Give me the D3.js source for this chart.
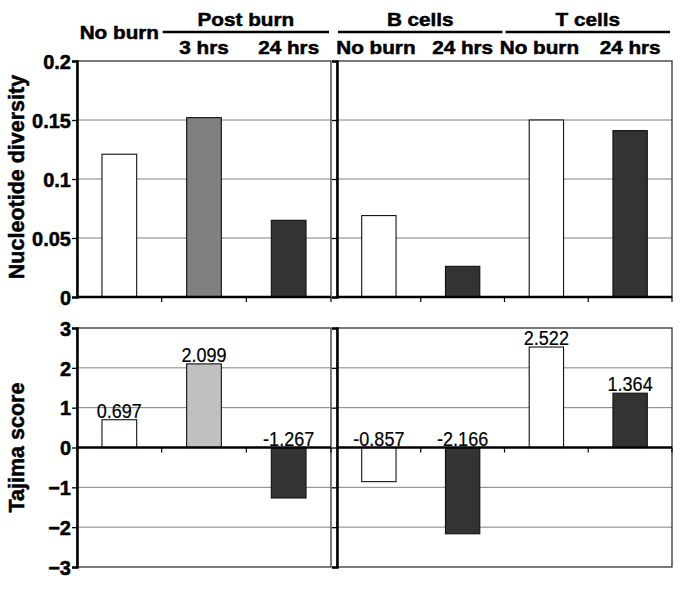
<!DOCTYPE html>
<html><head><meta charset="utf-8">
<script src="https://cdn.jsdelivr.net/npm/d3@7/dist/d3.min.js"></script>
<style>body{margin:0;background:#fff}svg{display:block}text{font-family:"Liberation Sans",Arial,sans-serif}</style>
</head><body><svg id="c" width="685" height="589"></svg>
<script>
// ---- data ----
const leftCategories = ["No burn", "3 hrs", "24 hrs"];
const rightCategories = ["B No burn", "B 24 hrs", "T No burn", "T 24 hrs"];
const leftDiversity = [0.121, 0.152, 0.065];
const rightDiversity = [0.069, 0.026, 0.150, 0.141];
const leftTajima = [0.697, 2.099, -1.267];
const rightTajima = [-0.857, -2.166, 2.522, 1.364];
const leftDiversityFill = ["#ffffff", "#808080", "#333333"];
const leftTajimaFill = ["#ffffff", "#c0c0c0", "#333333"];
const rightFill = ["#ffffff", "#333333", "#ffffff", "#333333"];
const subLabelsLeft = ["", "3 hrs", "24 hrs"];
const subLabelsRight = ["No burn", "24 hrs", "No burn", "24 hrs"];
const groupNames = ["Post burn", "B cells", "T cells"];
const groupMembers = [["3 hrs", "24 hrs"], ["B No burn", "B 24 hrs"], ["T No burn", "T 24 hrs"]];
const diversityTicks = [0, 0.05, 0.1, 0.15, 0.2];
const diversityTickLabels = ["0", "0.05", "0.1", "0.15", "0.2"];
const tajimaTicks = [-3, -2, -1, 0, 1, 2, 3];

// ---- layout ----
const svg = d3.select("#c");
const xL = d3.scaleBand().domain(leftCategories).range([77, 331]).paddingInner(0.59).paddingOuter(0.295);
const xR = d3.scaleBand().domain(rightCategories).range([337, 672]).paddingInner(0.59).paddingOuter(0.295);
const yTop = d3.scaleLinear().domain([0, 0.2]).range([297, 61]);
const yBot = d3.scaleLinear().domain([-3, 3]).range([567, 328]);
const grid = "#808080";

function center(x, c) { return x(c) + x.bandwidth() / 2; }
function bounds(x) { const r = x.range(); const st = x.step(); return d3.range(x.domain().length + 1).map(i => r[0] + i * st); }

function panel(x, y, ticks, tickFmt, cats, vals, fills, zero, showLabels) {
  const r = x.range();
  const g = svg.append("g");
  g.selectAll(".gr").data(ticks.filter(t => t !== y.domain()[0] && t !== y.domain()[1] && t !== zero))
    .join("line").attr("x1", r[0]).attr("x2", r[1]).attr("y1", d => y(d)).attr("y2", d => y(d))
    .attr("stroke", grid).attr("stroke-width", 1);
  g.append("rect").attr("x", r[0]).attr("y", y.range()[1]).attr("width", r[1] - r[0]).attr("height", y.range()[0] - y.range()[1])
    .attr("fill", "none").attr("stroke", "#333").attr("stroke-width", 1.3);
  g.selectAll(".bar").data(cats).join("rect")
    .attr("x", d => x(d)).attr("width", x.bandwidth())
    .attr("y", (d, i) => y(Math.max(vals[i], zero))).attr("height", (d, i) => Math.abs(y(vals[i]) - y(zero)))
    .attr("fill", (d, i) => fills[i]).attr("stroke", "#111").attr("stroke-width", 1.1);
  g.append("line").attr("x1", r[0]).attr("x2", r[1]).attr("y1", y(zero)).attr("y2", y(zero)).attr("stroke", "#000").attr("stroke-width", 2.3);
  g.selectAll(".ct").data(bounds(x).slice(1)).join("line")
    .attr("x1", d => d).attr("x2", d => d).attr("y1", y(zero)).attr("y2", y(zero) + 5)
    .attr("stroke", "#000").attr("stroke-width", 1.2);
  const ax = g.append("g").attr("transform", `translate(${r[0]},0)`)
    .call(d3.axisLeft(y).tickValues(ticks).tickSize(5).tickFormat(tickFmt));
  ax.select(".domain").attr("stroke", "#000").attr("stroke-width", 2.5);
  ax.selectAll(".tick line").attr("stroke", "#000").attr("stroke-width", 1.3);
  ax.selectAll("text").attr("font-size", 20).attr("font-weight", "bold").attr("fill", "#000")
    .attr("stroke", "#000").attr("stroke-width", 0.5).attr("x", -6).attr("dy", "0.36em");
  if (!showLabels) ax.selectAll("text").remove();
  return g;
}

panel(xL, yTop, diversityTicks, (d, i) => diversityTickLabels[i], leftCategories, leftDiversity, leftDiversityFill, 0, true);
panel(xR, yTop, diversityTicks, () => "", rightCategories, rightDiversity, rightFill, 0, false);
const gl = panel(xL, yBot, tajimaTicks, d3.format("d"), leftCategories, leftTajima, leftTajimaFill, 0, true);
const gr = panel(xR, yBot, tajimaTicks, () => "", rightCategories, rightTajima, rightFill, 0, false);

function valueLabels(g, x, cats, vals) {
  g.selectAll(".vl").data(cats).join("text")
    .attr("transform", (d, i) => `translate(${center(x, d)},${yBot(Math.max(vals[i], 0)) - 2}) scale(0.95,1.08)`)
    .attr("text-anchor", "middle").attr("font-size", 19).attr("fill", "#000")
    .attr("stroke", "#000").attr("stroke-width", 0.2)
    .text((d, i) => d3.format(".3f")(vals[i]).replace("−", "-"));
}
valueLabels(gl, xL, leftCategories, leftTajima);
valueLabels(gr, xR, rightCategories, rightTajima);

function title(y, t) {
  svg.append("text").attr("transform", `translate(24,${y}) rotate(-90)`)
    .attr("text-anchor", "middle").attr("font-size", 21.5).attr("font-weight", "bold")
    .attr("stroke", "#000").attr("stroke-width", 0.5).text(t);
}
title((yTop.range()[0] + yTop.range()[1]) / 2 - 2, "Nucleotide diversity");
title((yBot.range()[0] + yBot.range()[1]) / 2, "Tajima score");

function hText(x, y, t) {
  svg.append("text").attr("transform", `translate(${x},${y}) scale(1.12,1.02)`).attr("text-anchor", "middle")
    .attr("font-size", 18.5).attr("font-weight", "bold").attr("fill", "#000")
    .attr("stroke", "#000").attr("stroke-width", 0.5).text(t);
}
hText(center(xL, leftCategories[0]), 39, leftCategories[0]);
leftCategories.forEach((c, i) => { if (subLabelsLeft[i]) hText(center(xL, c), 54, subLabelsLeft[i]); });
rightCategories.forEach((c, i) => hText(center(xR, c) - (i === 2 ? 7 : i === 0 ? 3 : 0), 54, subLabelsRight[i]));
groupNames.forEach((name, gi) => {
  const mem = groupMembers[gi];
  const x = leftCategories.includes(mem[0]) ? xL : xR;
  const a = x(mem[0]) - (x.step() - x.bandwidth()) / 2 + 1;
  const b = x(mem[mem.length - 1]) + x.bandwidth() + (x.step() - x.bandwidth()) / 2 - 2;
  svg.append("line").attr("x1", a).attr("x2", b).attr("y1", 32).attr("y2", 32).attr("stroke", "#000").attr("stroke-width", 2.4);
  hText((a + b) / 2, 26, name);
});
</script></body></html>
